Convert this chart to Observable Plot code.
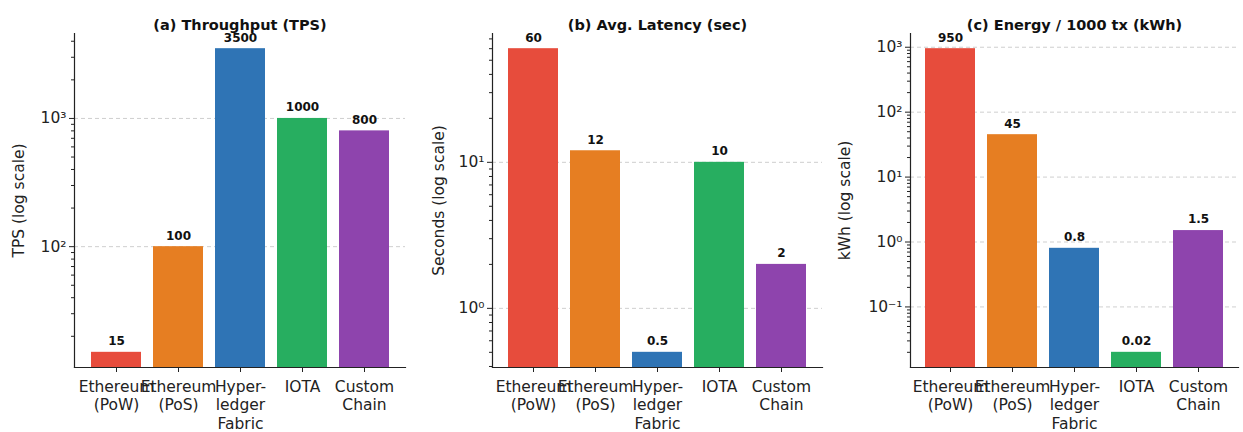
<!DOCTYPE html>
<html>
<head>
<meta charset="utf-8">
<script src="https://cdn.jsdelivr.net/npm/d3@7"></script>
<script src="https://cdn.jsdelivr.net/npm/@observablehq/plot@0.6"></script>
<style>
  html, body { margin: 0; padding: 0; background: #fff; }
  #chart { position: relative; width: 1243px; height: 432px; overflow: hidden; }
  #chart > svg { position: absolute; top: 0; }
</style>
</head>
<body>
<div id="chart"></div>
<script>
// Platforms compared, and how their names wrap under the bars
const platforms = ["Ethereum (PoW)", "Ethereum (PoS)", "Hyperledger Fabric", "IOTA", "Custom Chain"];
const platformLabels = ["Ethereum\n(PoW)", "Ethereum\n(PoS)", "Hyper-\nledger\nFabric", "IOTA", "Custom\nChain"];
const platformColors = ["#e74c3c", "#e67e22", "#2f74b5", "#27ae60", "#8e44ad"];

// Metric values per platform
const throughputTPS = [15, 100, 3500, 1000, 800];
const latencySec = [60, 12, 0.5, 10, 2];
const energyKWh = [950, 45, 0.8, 0.02, 1.5];

// Panel titles and axis labels
const panelTitles = ["(a) Throughput (TPS)", "(b) Avg. Latency (sec)", "(c) Energy / 1000 tx (kWh)"];
const yLabels = ["TPS (log scale)", "Seconds (log scale)", "kWh (log scale)"];

// Major log ticks (decades) and their labels
const majorTicksA = [100, 1000];
const majorLabelsA = ["10²", "10³"];
const majorTicksB = [1, 10];
const majorLabelsB = ["10⁰", "10¹"];
const majorTicksC = [0.1, 1, 10, 100, 1000];
const majorLabelsC = ["10⁻¹", "10⁰", "10¹", "10²", "10³"];

const FONT = 15.5;

const panels = [
  {values: throughputTPS, title: panelTitles[0], ylabel: yLabels[0], majors: majorTicksA, majorLabels: majorLabelsA,
   left: 0, width: 414, marginLeft: 74, marginRight: 9, labelDx: -55},
  {values: latencySec, title: panelTitles[1], ylabel: yLabels[1], majors: majorTicksB, majorLabels: majorLabelsB,
   left: 414, width: 414, marginLeft: 78, marginRight: 6, labelDx: -53},
  {values: energyKWh, title: panelTitles[2], ylabel: yLabels[2], majors: majorTicksC, majorLabels: majorLabelsC,
   left: 828, width: 415, marginLeft: 82, marginRight: 5, labelDx: -65}
];

const labelOf = new Map(platforms.map((p, i) => [p, platformLabels[i]]));

// Log-axis limits padded by 5% of the data's log span on each side
function logDomain(values) {
  const lo = Math.log10(d3.min(values)), hi = Math.log10(d3.max(values));
  const pad = 0.05 * (hi - lo);
  return [Math.pow(10, lo - pad), Math.pow(10, hi + pad)];
}

// Minor ticks at 2..9 × each decade inside the domain
function minorTicks([lo, hi]) {
  const out = [];
  for (let e = Math.floor(Math.log10(lo)); e <= Math.ceil(Math.log10(hi)); e++) {
    for (let m = 2; m <= 9; m++) {
      const v = m * Math.pow(10, e);
      if (v >= lo && v <= hi) out.push(v);
    }
  }
  return out;
}

const chart = document.getElementById("chart");

for (const p of panels) {
  const rows = platforms.map((name, i) => ({name, value: p.values[i], color: platformColors[i]}));
  const domain = logDomain(p.values);
  const majorLabel = new Map(p.majors.map((v, i) => [v, p.majorLabels[i]]));

  const svg = Plot.plot({
    width: p.width,
    height: 432,
    marginLeft: p.marginLeft,
    marginRight: p.marginRight,
    marginTop: 33,
    marginBottom: 65,
    style: {fontFamily: "'DejaVu Sans', sans-serif", fontSize: FONT + "px", color: "#222", background: "#fff", overflow: "visible"},
    x: {domain: platforms, paddingInner: 0.2, paddingOuter: 0.24, label: null},
    y: {type: "log", domain, label: null},
    color: {type: "identity"},
    marks: [
      Plot.ruleY(p.majors, {stroke: "#cfcfcf", strokeWidth: 1, strokeDasharray: "4,3"}),
      Plot.barY(rows, {x: "name", y1: domain[0], y2: "value", fill: "color"}),
      Plot.text(rows, {x: "name", y: "value", text: d => String(d.value), dy: -11,
        fontWeight: "bold", fontSize: 12, fill: "#111"}),
      Plot.axisY(minorTicks(domain), {tickSize: 3, tickFormat: () => "", stroke: "#222"}),
      Plot.axisY(p.majors, {tickSize: 5, tickPadding: 3, fontSize: FONT, tickFormat: d => majorLabel.get(d), stroke: "#222", fill: "#222"}),
      Plot.axisX({tickSize: 5, tickPadding: 6, fontSize: FONT, lineHeight: 1.2, tickFormat: d => labelOf.get(d), stroke: "#222", fill: "#222"}),
      Plot.frame({anchor: "left", stroke: "#222", strokeWidth: 1.2}),
      Plot.frame({anchor: "bottom", stroke: "#222", strokeWidth: 1.2}),
      Plot.text([p.title], {frameAnchor: "top", dy: -14, fontWeight: "bold", fontSize: 14.5, fill: "#111"}),
      Plot.text([p.ylabel], {frameAnchor: "left", textAnchor: "middle", dx: p.labelDx, rotate: -90, fontSize: FONT, fill: "#222"})
    ]
  });
  svg.style.left = p.left + "px";
  chart.appendChild(svg);
}
</script>
</body>
</html>
